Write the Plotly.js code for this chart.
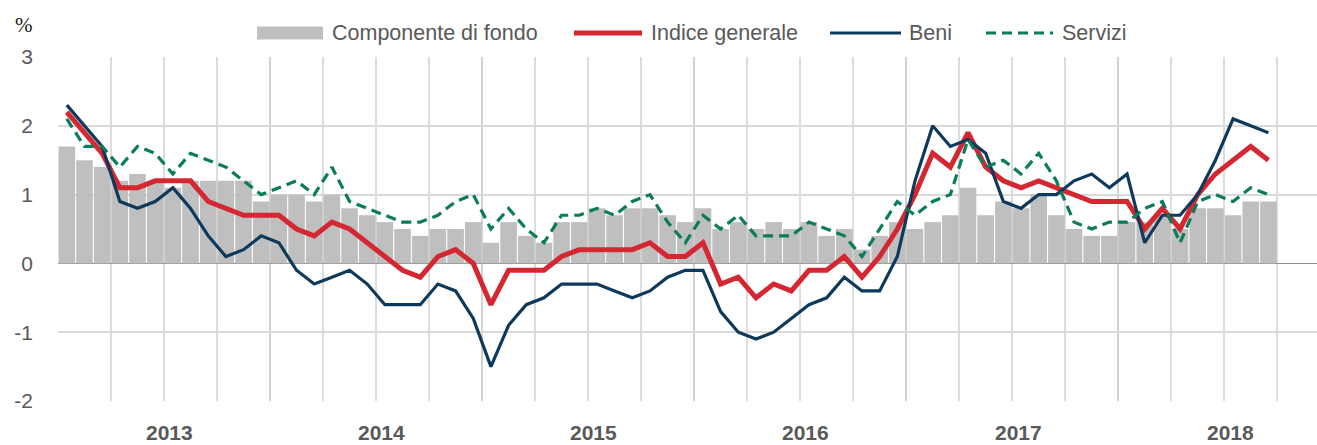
<!DOCTYPE html>
<html>
<head>
<meta charset="utf-8">
<script src="https://cdn.plot.ly/plotly-3.0.1.min.js"></script>
<style>html,body{margin:0;padding:0;background:#fff;}#chart{width:1317px;height:445px;}</style>
</head>
<body>
<div id="chart"></div>
<script>
// ---- data (monthly, Jan 2013 - Sep 2018) ----
const startYear = 2013;
const years = ['2013', '2014', '2015', '2016', '2017', '2018'];
const seriesNames = ['Componente di fondo', 'Indice generale', 'Beni', 'Servizi'];
const yTickVals = [-2, -1, 0, 1, 2, 3];
const yTickText = ['-2', '-1', '0', '1', '2', '3'];

const core = [
  1.7, 1.5, 1.4, 1.2, 1.3, 1.2, 1.1, 1.2, 1.2, 1.2, 1.2, 0.9,
  1.0, 1.0, 0.9, 1.0, 0.8, 0.7, 0.6, 0.5, 0.4, 0.5, 0.5, 0.6,
  0.3, 0.6, 0.4, 0.3, 0.6, 0.6, 0.8, 0.7, 0.8, 0.8, 0.7, 0.6,
  0.8, 0.5, 0.6, 0.5, 0.6, 0.5, 0.6, 0.4, 0.5, 0.2, 0.4, 0.6,
  0.5, 0.6, 0.7, 1.1, 0.7, 0.9, 0.8, 1.0, 0.7, 0.5, 0.4, 0.4,
  0.6, 0.6, 0.7, 0.5, 0.8, 0.8, 0.7, 0.9, 0.9
];
const headline = [
  2.2, 1.9, 1.6, 1.1, 1.1, 1.2, 1.2, 1.2, 0.9, 0.8, 0.7, 0.7,
  0.7, 0.5, 0.4, 0.6, 0.5, 0.3, 0.1, -0.1, -0.2, 0.1, 0.2, 0.0,
  -0.6, -0.1, -0.1, -0.1, 0.1, 0.2, 0.2, 0.2, 0.2, 0.3, 0.1, 0.1,
  0.3, -0.3, -0.2, -0.5, -0.3, -0.4, -0.1, -0.1, 0.1, -0.2, 0.1, 0.5,
  1.0, 1.6, 1.4, 1.9, 1.4, 1.2, 1.1, 1.2, 1.1, 1.0, 0.9, 0.9,
  0.9, 0.5, 0.8, 0.5, 1.0, 1.3, 1.5, 1.7, 1.5
];
const goods = [
  2.3, 2.0, 1.7, 0.9, 0.8, 0.9, 1.1, 0.8, 0.4, 0.1, 0.2, 0.4,
  0.3, -0.1, -0.3, -0.2, -0.1, -0.3, -0.6, -0.6, -0.6, -0.3, -0.4, -0.8,
  -1.5, -0.9, -0.6, -0.5, -0.3, -0.3, -0.3, -0.4, -0.5, -0.4, -0.2, -0.1,
  -0.1, -0.7, -1.0, -1.1, -1.0, -0.8, -0.6, -0.5, -0.2, -0.4, -0.4, 0.1,
  1.2, 2.0, 1.7, 1.8, 1.6, 0.9, 0.8, 1.0, 1.0, 1.2, 1.3, 1.1,
  1.3, 0.3, 0.7, 0.7, 1.0, 1.5, 2.1, 2.0, 1.9
];
const services = [
  2.1, 1.7, 1.7, 1.4, 1.7, 1.6, 1.3, 1.6, 1.5, 1.4, 1.2, 1.0,
  1.1, 1.2, 1.0, 1.4, 0.9, 0.8, 0.7, 0.6, 0.6, 0.7, 0.9, 1.0,
  0.5, 0.8, 0.5, 0.3, 0.7, 0.7, 0.8, 0.7, 0.9, 1.0, 0.6, 0.3,
  0.7, 0.5, 0.7, 0.4, 0.4, 0.4, 0.6, 0.5, 0.4, 0.1, 0.5, 0.9,
  0.7, 0.9, 1.0, 1.8, 1.4, 1.5, 1.3, 1.6, 1.2, 0.6, 0.5, 0.6,
  0.6, 0.8, 0.9, 0.3, 0.9, 1.0, 0.9, 1.1, 1.0
];

// ---- derived ----
const months = core.map((_, i) => (startYear + Math.floor(i / 12)) + '-' + String(i % 12 + 1).padStart(2, '0'));
const idx = months.map((_, i) => i);

const COLORS = { bar: '#bfbfbf', red: '#d52731', navy: '#0d3a5c', green: '#0a7b5b', text: '#595959' };
const FONT = '"Liberation Sans", Arial, sans-serif';

// layout geometry in pixels
const W = 1317, H = 445, L = 58, R = 0, T = 57, B = 44;
const PW = W - L - R, PH = H - T - B;
const px2x = p => (p - L) / PW;
const py2y = p => (H - B - p) / PH;

const yearBounds = [];
for (let k = 0; k <= years.length; k++) yearBounds.push(k * 12 - 0.5);
const quarterBounds = [];
for (let k = 0; k <= years.length * 4; k++) if (k % 4 !== 0) quarterBounds.push(k * 3 - 0.5);

const GREEN_DASH = '10px,6px';
const traces = [
  { type: 'bar', x: idx, y: core, name: seriesNames[0], marker: { color: COLORS.bar, line: { width: 0 } } },
  { type: 'scatter', mode: 'lines', x: idx, y: headline, name: seriesNames[1], line: { color: COLORS.red, width: 5 } },
  { type: 'scatter', mode: 'lines', x: idx, y: goods, name: seriesNames[2], line: { color: COLORS.navy, width: 3.2 } },
  { type: 'scatter', mode: 'lines', x: idx, y: services, name: seriesNames[3], line: { color: COLORS.green, width: 3.2, dash: GREEN_DASH } }
];

// custom legend (pixel positions of the reference)
const legendY = 33;
const shapes = [
  { type: 'rect', xref: 'paper', yref: 'paper', x0: px2x(257), x1: px2x(323), y0: py2y(39.5), y1: py2y(26.5), fillcolor: COLORS.bar, line: { width: 0 } },
  { type: 'line', xref: 'paper', yref: 'paper', x0: px2x(574), x1: px2x(642), y0: py2y(legendY), y1: py2y(legendY), line: { color: COLORS.red, width: 5 } },
  { type: 'line', xref: 'paper', yref: 'paper', x0: px2x(830), x1: px2x(901), y0: py2y(legendY), y1: py2y(legendY), line: { color: COLORS.navy, width: 3.2 } },
  { type: 'line', xref: 'paper', yref: 'paper', x0: px2x(986), x1: px2x(1053), y0: py2y(legendY), y1: py2y(legendY), line: { color: COLORS.green, width: 3.2, dash: GREEN_DASH } }
];
const legendTextX = [330, 649, 907, 1060];
const annotations = seriesNames.map((n, i) => ({
  xref: 'paper', yref: 'paper', x: px2x(legendTextX[i]), y: py2y(legendY), xanchor: 'left', yanchor: 'middle',
  text: n, showarrow: false, font: { family: FONT, size: 21.5, color: COLORS.text }
}));
annotations.push({
  xref: 'paper', yref: 'paper', x: px2x(24), y: py2y(25), xanchor: 'center', yanchor: 'middle',
  text: '%', showarrow: false, font: { family: '"Liberation Serif", "Times New Roman", serif', size: 21, color: '#222' }
});
years.forEach((yr, k) => annotations.push({
  xref: 'x', yref: 'paper', x: k * 12 + 5.83, y: py2y(432.5), xanchor: 'center', yanchor: 'middle',
  text: '<b>' + yr + '</b>', showarrow: false, font: { family: FONT, size: 21, color: COLORS.text }
}));

const layout = {
  width: W, height: H,
  margin: { l: L, r: R, t: T, b: B, pad: 0 },
  paper_bgcolor: '#fff', plot_bgcolor: '#fff',
  showlegend: false,
  bargap: 0.06,
  font: { family: FONT, color: COLORS.text },
  xaxis: {
    range: [-0.5, 70.75],
    tickmode: 'array', tickvals: yearBounds, showticklabels: false, ticks: '',
    showgrid: true, gridcolor: '#d2d2d2', gridwidth: 2.2,
    zeroline: false, showline: false,
    minor: { tickmode: 'array', tickvals: quarterBounds, showgrid: true, gridcolor: '#dcdcdc', gridwidth: 1.5, ticks: '' }
  },
  yaxis: {
    range: [-2, 3], tickmode: 'array', tickvals: yTickVals, ticktext: yTickText,
    showgrid: true, gridcolor: '#dadada', gridwidth: 1.8,
    zeroline: true, zerolinecolor: '#8c8c8c', zerolinewidth: 1.6,
    ticks: '', ticklabelstandoff: 24,
    tickfont: { family: FONT, size: 21, color: COLORS.text }
  },
  shapes: shapes,
  annotations: annotations
};

Plotly.newPlot('chart', traces, layout, { displayModeBar: false, staticPlot: true });
</script>
</body>
</html>
